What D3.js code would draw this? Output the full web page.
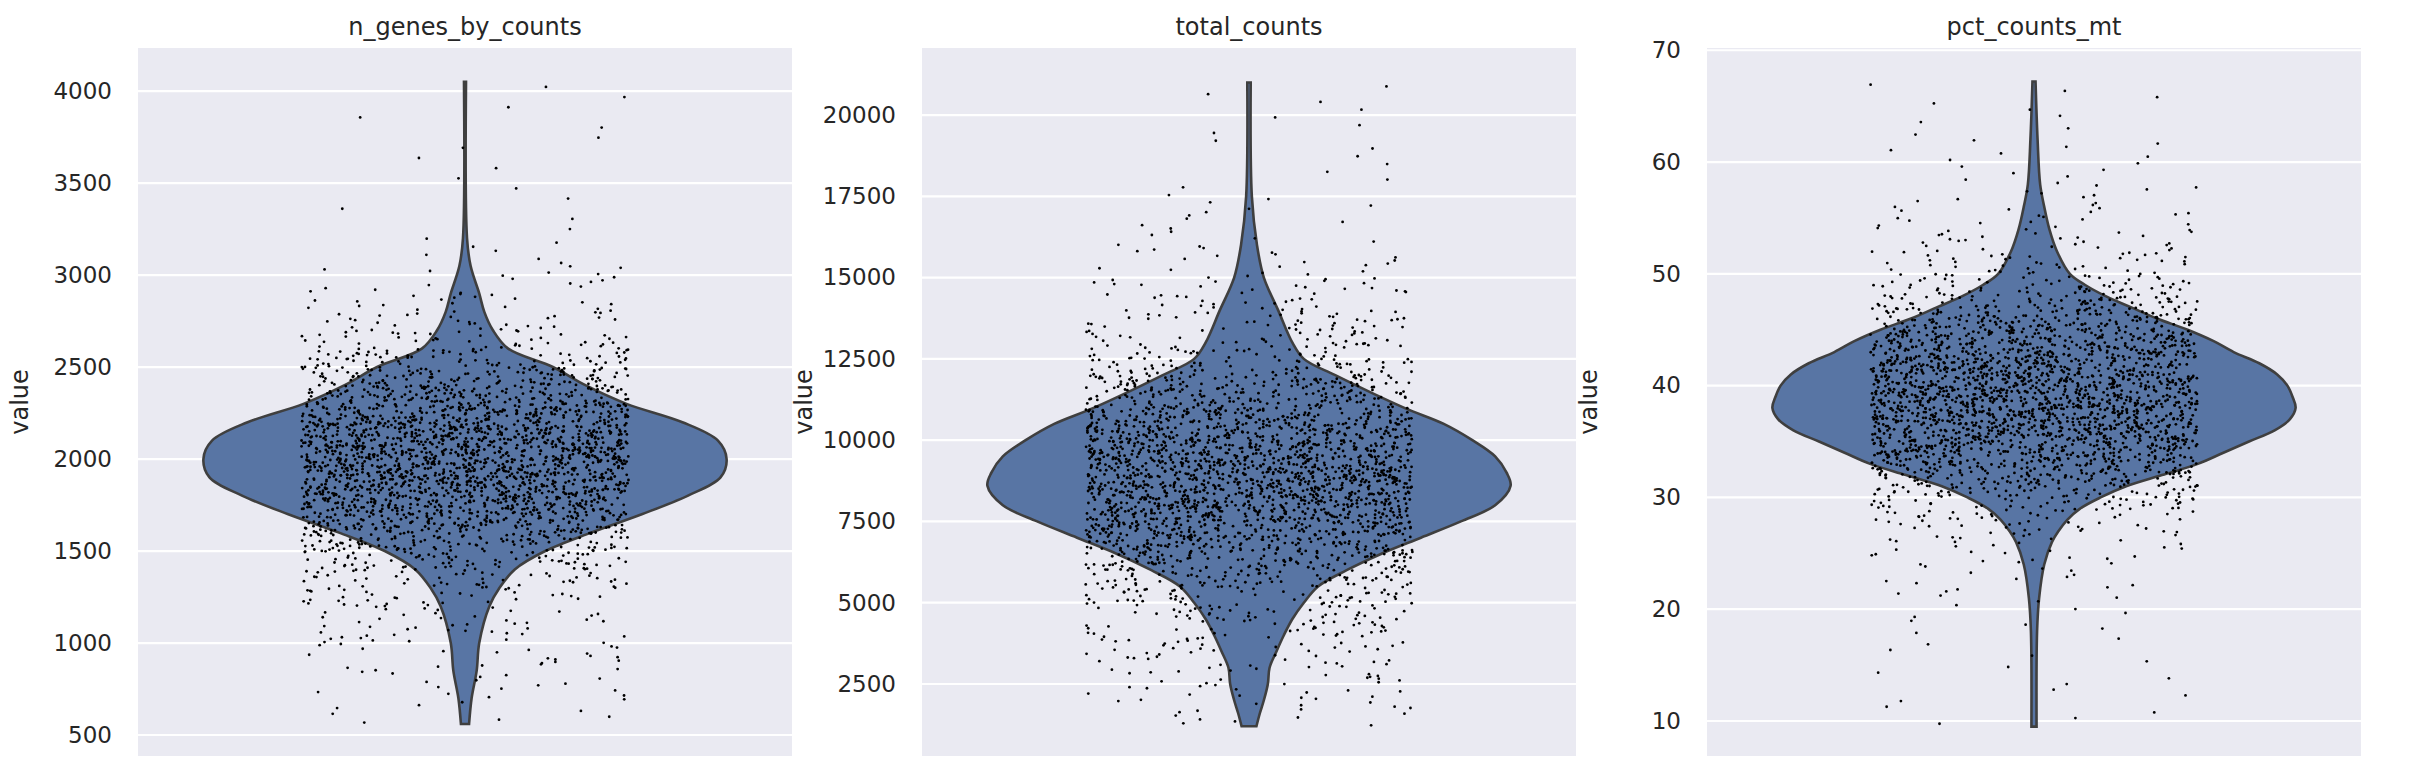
<!DOCTYPE html>
<html>
<head>
<meta charset="utf-8">
<script src="https://cdn.jsdelivr.net/npm/d3@7"></script>
<style>
  body { margin: 0; background: #fff; }
  text { font-family: "DejaVu Sans", sans-serif; fill: #262626; }
</style>
</head>
<body>
<div id="chart"></div>
<script>
// panel titles, in order
var titles = ["n_genes_by_counts", "total_counts", "pct_counts_mt"]

// y ticks per panel
var ticks1 = [500, 1000, 1500, 2000, 2500, 3000, 3500, 4000]
var ticks2 = [2500, 5000, 7500, 10000, 12500, 15000, 17500, 20000]
var ticks3 = [10, 20, 30, 40, 50, 60, 70]

// violin outlines: value and half width (relative)
var values1 = [560, 700, 850, 1000, 1200, 1300, 1400, 1500, 1600, 1700, 1800, 1900, 2000, 2100, 2200, 2300, 2400, 2500, 2600, 2700, 2800, 2900, 3050, 3200, 4050]
var widths1 = [8, 13, 23, 28, 48, 68, 98, 158, 248, 348, 438, 503, 515, 498, 428, 318, 238, 173, 85, 55, 38, 28, 11, 4, 2]

var values2 = [1200, 1600, 2000, 2500, 3000, 3500, 4000, 4500, 5000, 5500, 6000, 6500, 7000, 7500, 8000, 8600, 9000, 9500, 10000, 10500, 11000, 12000, 12500, 13000, 14000, 15000, 16000, 17500, 21000]
var widths2 = [13, 19, 26, 33, 36, 48, 61, 76, 96, 121, 171, 231, 301, 371, 431, 458, 451, 431, 391, 341, 271, 151, 96, 76, 51, 26, 14, 5, 3]

var values3 = [9.5, 18, 21, 24, 26, 27, 28, 29, 30, 31, 32, 33, 34, 35, 36, 37, 38, 39, 40, 41, 42, 43, 44, 45, 46, 47, 48, 49, 50, 52, 54, 56, 58, 62, 67.2]
var widths3 = [5, 6, 10, 20, 35, 48, 65, 90, 130, 180, 250, 320, 370, 420, 470, 500, 511, 505, 495, 475, 440, 390, 350, 300, 240, 190, 140, 100, 70, 45, 30, 20, 12, 7, 3]

// number of cells shown as dots in each panel
var cellCount = 2700

var panels = [
  {title: titles[0], ticks: ticks1, values: values1, widths: widths1, domain: [386, 4234], left: 138},
  {title: titles[1], ticks: ticks2, values: values2, widths: widths2, domain: [285, 22062], left: 922},
  {title: titles[2], ticks: ticks3, values: values3, widths: widths3, domain: [6.87, 70.2], left: 1707}
]

var width = 2409
var height = 774
var plotW = 654
var plotTop = 48
var plotBottom = 756

var svg = d3.select("#chart").append("svg")
  .attr("width", width)
  .attr("height", height)

// integer hash -> [0,1), spreads the strip jitter without a visible lattice
function hash01(n) {
  n = Math.imul(n ^ (n >>> 16), 0x45d9f3b)
  n = Math.imul(n ^ (n >>> 16), 0x45d9f3b)
  n = n ^ (n >>> 16)
  return (n >>> 0) / 4294967296
}

panels.forEach(function(p, pi) {
  var g = svg.append("g").attr("transform", "translate(" + p.left + ",0)")

  var y = d3.scaleLinear().domain(p.domain).range([plotBottom, plotTop])
  var x = d3.scaleBand().domain([p.title]).range([0, plotW])
  var cx = x(p.title) + x.bandwidth() / 2
  var maxW = d3.max(p.widths)
  var w = d3.scaleLinear().domain([0, maxW]).range([0, x.bandwidth() * 0.4])

  g.append("rect")
    .attr("x", 0).attr("y", plotTop)
    .attr("width", plotW).attr("height", plotBottom - plotTop)
    .attr("fill", "#eaeaf2")

  g.selectAll(".grid").data(p.ticks).enter().append("line")
    .attr("x1", 0).attr("x2", plotW)
    .attr("y1", function(d) { return y(d) }).attr("y2", function(d) { return y(d) })
    .attr("stroke", "#fff").attr("stroke-width", 2.2)

  var axis = g.append("g").call(d3.axisLeft(y).tickValues(p.ticks).tickFormat(d3.format("d")).tickSize(0).tickPadding(26))
  axis.select(".domain").remove()
  axis.selectAll("text").style("font-size", "23px").attr("fill", "#262626")

  g.append("text")
    .attr("x", plotW / 2).attr("y", 35)
    .attr("text-anchor", "middle")
    .style("font-size", "24px")
    .text(p.title)

  g.append("text")
    .attr("transform", "translate(" + (-110) + "," + ((plotTop + plotBottom) / 2) + ") rotate(-90)")
    .attr("text-anchor", "middle")
    .style("font-size", "24px")
    .text("value")

  var prof = p.values.map(function(v, i) { return {v: v, w: p.widths[i]} })

  var area = d3.area()
    .curve(d3.curveCatmullRom)
    .y(function(d) { return y(d.v) })
    .x0(function(d) { return cx - w(d.w) })
    .x1(function(d) { return cx + w(d.w) })

  g.append("path")
    .datum(prof)
    .attr("d", area)
    .attr("fill", "#5875a4")
    .attr("stroke", "#3f3f3f")
    .attr("stroke-width", 2.6)

  // cumulative area under the outline, used to place the cell dots
  var cum = [0]
  for (var i = 1; i < prof.length; i++) {
    cum.push(cum[i - 1] + (prof[i].w + prof[i - 1].w) / 2 * (prof[i].v - prof[i - 1].v))
  }
  var total = cum[cum.length - 1]
  function quantile(q) {
    var t = q * total
    var k = d3.bisectLeft(cum, t)
    if (k <= 0) return prof[0].v
    var a = cum[k - 1], b = cum[k]
    return prof[k - 1].v + (prof[k].v - prof[k - 1].v) * (t - a) / (b - a)
  }

  var dots = d3.range(cellCount).map(function(i) {
    var q = (i + 0.5) / cellCount
    return {jit: hash01(i * 7 + pi * 100003 + 1) - 0.5, v: quantile(q)}
  })

  var jx = d3.scaleLinear().domain([-0.5, 0.5]).range([cx - x.bandwidth() * 0.25, cx + x.bandwidth() * 0.25])

  g.selectAll(".dot").data(dots).enter().append("circle")
    .attr("cx", function(d) { return jx(d.jit) })
    .attr("cy", function(d) { return y(d.v) })
    .attr("r", 1.4)
    .attr("fill", "#000")
})
</script>
</body>
</html>
